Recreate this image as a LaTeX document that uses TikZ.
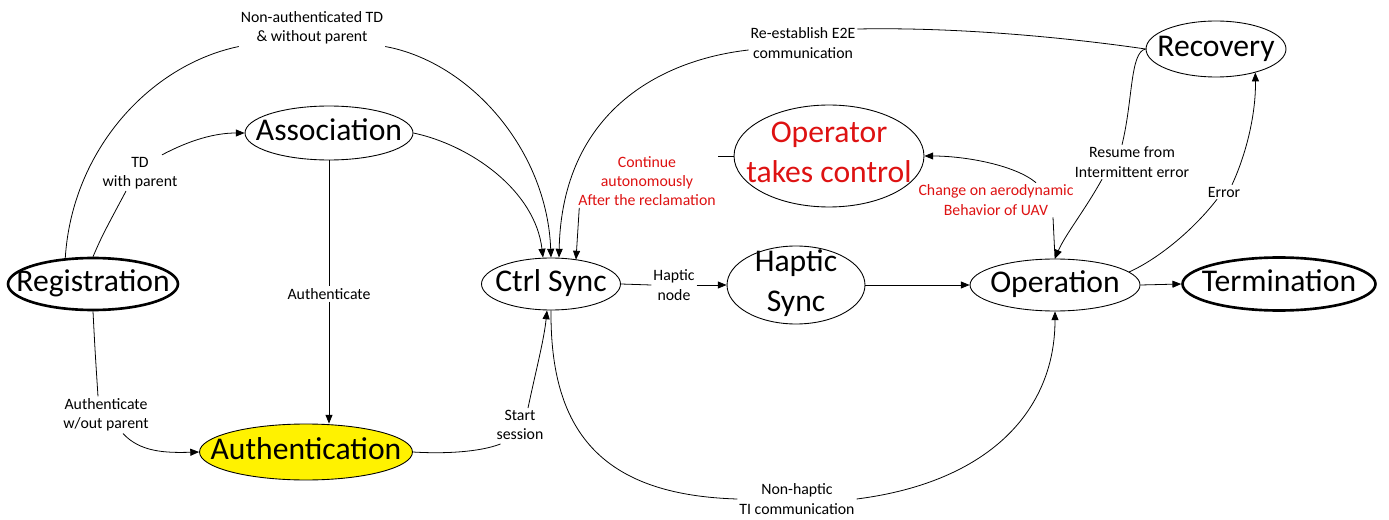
\documentclass[tikz,border=0pt]{standalone}
\usepackage{fontspec}
\setmainfont{Carlito}
\usetikzlibrary{shapes.geometric,arrows.meta,calc}
\definecolor{alertred}{RGB}{222,18,18}
% state text is set in a zero-size box so that the ellipse keeps its given size
\newcommand{\stxt}[1]{\makebox[0pt]{\begin{tabular}[b]{@{}c@{}}#1\end{tabular}}}
\tikzset{
  state/.style={ellipse, draw, line width=0.5pt, inner sep=0pt,
    font=\fontsize{18}{22.5}\selectfont, text height=8.3pt, text depth=-8.3pt},
  twoline/.style={text height=30pt, text depth=-30pt},
  endstate/.style={state, line width=1.5pt},
  lbl/.style={font=\fontsize{9}{11}\selectfont, align=center, inner sep=1pt},
  conn/.style={line width=0.45pt},
  arr/.style={-{Triangle[length=5pt,width=4pt]}},
}
\begin{document}
\begin{tikzpicture}[x=0.02cm,y=-0.02cm]
\fill[white] (0,0) rectangle (1389,520);
\useasboundingbox (0,0) rectangle (1389,520);

% states
\node[endstate, minimum width=3.4cm, minimum height=1.04cm] (reg) at (93,284) {\stxt{Registration}};
\node[state, minimum width=3.36cm, minimum height=1.08cm] (assoc) at (329,133) {\stxt{Association}};
\node[state, fill=yellow, minimum width=4.26cm, minimum height=1.12cm] (auth) at (306,452) {\stxt{Authentication}};
\node[state, minimum width=2.78cm, minimum height=1.04cm] (ctrl) at (551,284) {\stxt{Ctrl Sync}};
\node[state, twoline, minimum width=2.76cm, minimum height=1.56cm] (haptic) at (796,285) {\stxt{Haptic\\Sync}};
\node[state, twoline, text=alertred, minimum width=3.8cm, minimum height=2.04cm] (oper) at (829,156) {\stxt{Operator\\takes control}};
\node[state, minimum width=3.4cm, minimum height=1.04cm] (op) at (1055,285) {\stxt{Operation}};
\node[endstate, minimum width=3.86cm, minimum height=1.06cm] (term) at (1279,284) {\stxt{Termination}};
\node[state, minimum width=2.8cm, minimum height=1.12cm] (rec) at (1216,49) {\stxt{Recovery}};

% transition labels
\node[lbl] (lNA) at (312,28) {Non-authenticated TD\\\& without parent};
\node[lbl] (lTD) at (140,173) {TD\\with parent};
\node[lbl] (lA) at (329,294) {Authenticate};
\node[lbl] (lAW) at (106,415) {Authenticate\\w/out parent};
\node[lbl] (lSS) at (520,425) {Start\\session};
\node[lbl] (lHN) at (674,285) {Haptic\\node};
\node[lbl] (lNH) at (797,499) {Non-haptic\\TI communication};
\node[lbl] (lE) at (1224,192) {Error};
\node[lbl] (lR) at (1132,162) {Resume from\\Intermittent error};
\node[lbl] (lRE) at (803,43) {Re-establish E2E\\communication};
\node[lbl, text=alertred] (lC) at (647,181) {Continue\\autonomously\\After the reclamation};
\node[lbl, text=alertred] (lCh) at (996,200) {Change on aerodynamic\\Behavior of UAV};

% Registration -> Ctrl Sync
\draw[conn] (reg.137) .. controls (72,150) and (150,65) .. (lNA.south west);
\draw[conn,arr] (lNA.south east) .. controls (470,62) and (547,150) .. (ctrl.north);
% Registration -> Association
\draw[conn] (reg.north) .. controls (102,236) .. ($(lTD.south)+(-14,0)$);
\draw[conn,arr] ($(lTD.north)+(22,0)$) .. controls (190,140) and (215,133) .. (assoc.west);
% Association -> Ctrl Sync
\draw[conn,arr] (assoc.east) .. controls (470,145) and (535,190) .. ($(ctrl.north)+(-8,0)$);
% Association -> Authentication
\draw[conn] (assoc.south) -- (lA.north);
\draw[conn,arr] (lA.south) -- (lA.south |- auth.north);
% Registration -> Authentication
\draw[conn] (reg.south) .. controls (95,350) .. ($(lAW.north)+(-8,0)$);
\draw[conn,arr] ($(lAW.south)+(17,0)$) .. controls (140,452) and (165,453) .. (auth.west);
% Authentication -> Ctrl Sync
\draw[conn] (auth.east) .. controls (445,454) and (480,452) .. ($(lSS.south west)+(6,2)$);
\draw[conn,arr] ($(lSS.north)+(8,0)$) .. controls (536,370) and (544,340) .. ($(ctrl.south)+(-4,0)$);
% Ctrl Sync -> Haptic Sync
\draw[conn] (ctrl.east) -- (lHN.west);
\draw[conn,arr] (lHN.east) -- (haptic.west);
% Ctrl Sync -> Operation
\draw[conn] (ctrl.south) .. controls (550,430) and (600,495) .. (lNH.west);
\draw[conn,arr] (lNH.east) .. controls (990,482) and (1055,410) .. (op.south);
% Haptic Sync -> Operation -> Termination
\draw[conn,arr] (haptic.east) -- (op.west);
\draw[conn,arr] (op.east) -- (term.west);
% Operation -> Recovery
\draw[conn] (op.10) .. controls (1160,258) and (1195,228) .. ($(lE.south)+(-7,0)$);
\draw[conn,arr] ($(lE.north)+(8,0)$) .. controls (1248,150) and (1256,110) .. (rec.-31);
% Recovery -> Operation
\draw[conn] (rec.west) .. controls (1130,52) and (1133,100) .. ($(lR.north)+(-10,0)$);
\draw[conn,arr] ($(lR.south)+(-30,0)$) .. controls (1085,210) and (1065,235) .. (op.north);
% Recovery -> Ctrl Sync
\draw[conn] (rec.west) .. controls (1070,38) and (960,27) .. ($(lRE.east)+(0,-14)$);
\draw[conn,arr] ($(lRE.west)+(0,7)$) .. controls (660,60) and (562,112) .. ($(ctrl.north)+(8,0)$);
% Operator takes control -> Ctrl Sync
\draw[conn] (oper.west) -- ($(lC.east)+(0,-25)$);
\draw[conn,arr] ($(lC.south west)+(3,0)$) -- ($(ctrl.north)+(25,2)$);
% Operation -> Operator takes control
\draw[conn] (op.north) -- ($(lCh.south)+(57,0)$);
\draw[conn,arr] ($(lCh.north)+(40,0)$) .. controls (1015,165) and (965,156) .. (oper.east);
\end{tikzpicture}
\end{document}
